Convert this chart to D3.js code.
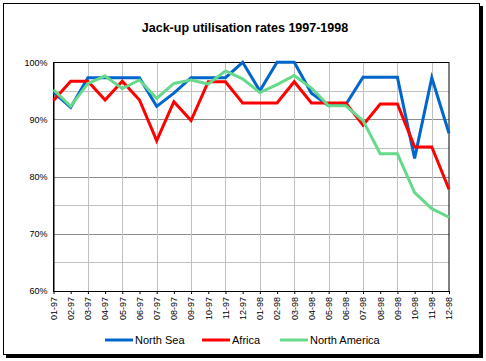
<!DOCTYPE html>
<html><head><meta charset="utf-8">
<script src="https://cdn.jsdelivr.net/npm/d3@7"></script>
<style>
html,body{margin:0;padding:0;background:#fff;}
svg{display:block;font-family:"Liberation Sans",Arial,sans-serif;}
</style></head>
<body>
<svg id="chart" width="486" height="361"></svg>
<script>
const categories = ["01-97","02-97","03-97","04-97","05-97","06-97","07-97","08-97","09-97","10-97","11-97","12-97",
                    "01-98","02-98","03-98","04-98","05-98","06-98","07-98","08-98","09-98","10-98","11-98","12-98"];
const northSea = [94.8,92.1,97.3,97.3,97.3,97.3,92.3,94.6,97.3,97.3,97.3,100,95.0,100,100,94.6,92.4,92.6,97.4,97.4,97.4,83.2,97.3,87.6];
const africa = [93.3,96.7,96.7,93.4,96.7,93.4,86.3,93.1,89.8,96.6,96.6,92.9,92.9,92.9,96.6,92.9,92.9,92.9,89.0,92.7,92.7,85.2,85.2,77.8];
const northAmerica = [95.2,92.3,96.3,97.6,95.4,96.9,93.7,96.3,96.9,96.2,98.5,97.1,94.7,96.1,97.7,95.5,92.4,92.4,89.8,84.0,84.0,77.2,74.4,72.9];
const yTicks = [60,70,80,90,100];
const seriesNames = ["North Sea","Africa","North America"];
const seriesColors = ["#0066CC","#FF0000","#66D98A"];

const svg = d3.select("#chart");
// frame with shadow
svg.append("rect").attr("x",6).attr("y",6).attr("width",477).attr("height",352).attr("fill","#000");
svg.append("rect").attr("x",3.5).attr("y",3.5).attr("width",476).attr("height",351)
  .attr("fill","#fff").attr("stroke","#000").attr("stroke-width",1);

svg.append("text").attr("x",245).attr("y",32).attr("text-anchor","middle")
  .attr("font-size","12.5px").attr("font-weight","bold").text("Jack-up utilisation rates 1997-1998");

const L=53.5, R=449, T=62.3, B=291;
const x = d3.scalePoint().domain(categories).range([L,R]);
const y = d3.scaleLinear().domain([60,100]).range([B,T]);

const g = svg.append("g");
// horizontal grid
const hg = d3.range(65,100,5);
g.selectAll(".hg").data(hg).enter().append("line")
  .attr("x1",L).attr("x2",R).attr("y1",d=>Math.round(y(d))+0.5).attr("y2",d=>Math.round(y(d))+0.5)
  .attr("stroke",d=>d%10===0?"#8c8c8c":"#c0c0c0").attr("stroke-width",1);
// vertical grid
g.selectAll(".vg").data(categories.filter((c,i)=>i%2===0&&i>0)).enter().append("line")
  .attr("x1",d=>Math.round(x(d))+0.5).attr("x2",d=>Math.round(x(d))+0.5).attr("y1",T).attr("y2",B)
  .attr("stroke","#c0c0c0").attr("stroke-width",1);
// plot border
g.append("rect").attr("x",L).attr("y",Math.round(T)+0.5).attr("width",R-L).attr("height",B-Math.round(T))
  .attr("fill","none").attr("stroke","#000").attr("stroke-width",1);

// x axis
const xa = svg.append("g").attr("transform",`translate(0,${B})`)
  .call(d3.axisBottom(x).tickSizeInner(3).tickSizeOuter(0));
xa.select(".domain").attr("stroke","#000");
xa.selectAll("text").attr("font-size","9px").attr("font-family","Liberation Sans, Arial, sans-serif")
  .attr("transform","rotate(-90)").attr("text-anchor","end").attr("x",-6).attr("y",0).attr("dy","0.32em").attr("fill","#000");

// y axis
const ya = svg.append("g").attr("transform",`translate(${L},0)`)
  .call(d3.axisLeft(y).tickValues(yTicks).tickFormat(d=>d+"%").tickSize(0).tickPadding(6));
ya.select(".domain").attr("stroke","#000");
ya.selectAll("text").attr("font-size","9px").attr("font-family","Liberation Sans, Arial, sans-serif").attr("fill","#000");

const line = d3.line().x((d,i)=>x(categories[i])).y(d=>y(d));
[northSea,africa,northAmerica].forEach((s,k)=>{
  svg.append("path").datum(s).attr("d",line).attr("fill","none")
    .attr("stroke",seriesColors[k]).attr("stroke-width",3).attr("stroke-linejoin","miter");
});

// legend
const legX=[105,202,280];
seriesNames.forEach((n,k)=>{
  svg.append("line").attr("x1",legX[k]).attr("x2",legX[k]+28).attr("y1",340).attr("y2",340)
    .attr("stroke",seriesColors[k]).attr("stroke-width",3);
  svg.append("text").attr("x",legX[k]+30).attr("y",344).attr("font-size","11px").text(n);
});
</script>
</body></html>
